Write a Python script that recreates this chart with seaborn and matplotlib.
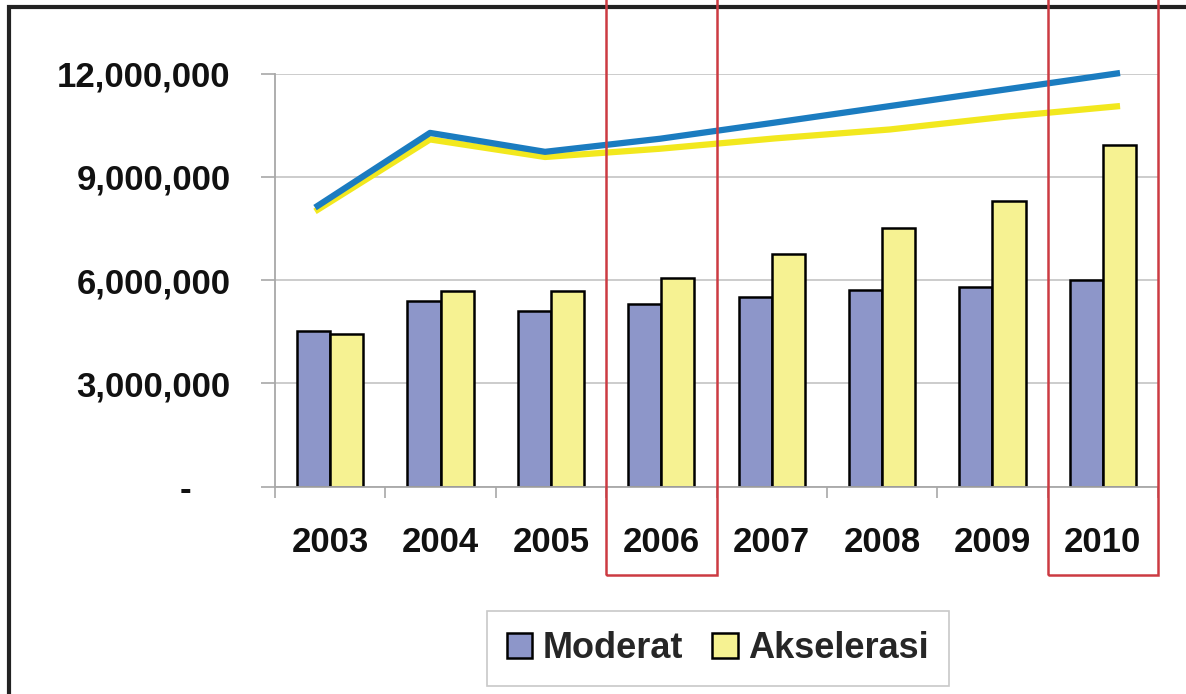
import numpy as np
import pandas as pd
import matplotlib
matplotlib.use("Agg")
import matplotlib.pyplot as plt
import matplotlib.transforms as mtransforms
from matplotlib.patches import Rectangle, Patch
from matplotlib.ticker import FuncFormatter, FixedLocator
import seaborn as sns

# ---------------- data ----------------
years = ['2003', '2004', '2005', '2006', '2007', '2008', '2009', '2010']
series_names = ['Moderat', 'Akselerasi']
moderat_bar = [4.53e6, 5.40e6, 5.11e6, 5.31e6, 5.50e6, 5.71e6, 5.81e6, 6.00e6]
akselerasi_bar = [4.44e6, 5.69e6, 5.69e6, 6.07e6, 6.75e6, 7.53e6, 8.29e6, 9.94e6]
moderat_line = [8.11e6, 10.28e6, 9.73e6, 10.11e6, 10.58e6, 11.06e6, 11.54e6, 12.02e6]
akselerasi_line = [8.00e6, 10.09e6, 9.58e6, 9.82e6, 10.12e6, 10.38e6, 10.75e6, 11.06e6]
highlight_years = ['2006', '2010']
yticks = [0, 3e6, 6e6, 9e6, 12e6]

# ---------------- style ----------------
bar_colors = ['#8D96C9', '#F6F292']
line_colors = ['#1B7CC0', '#F2E81E']
grey = '#A8A8A8'

sns.set_theme(style='white')
plt.rcParams['font.family'] = ['Liberation Sans', 'DejaVu Sans']
plt.rcParams['font.weight'] = 'bold'

df = pd.DataFrame({
    'Tahun': years * 2,
    'Skenario': [series_names[0]] * len(years) + [series_names[1]] * len(years),
    'Nilai': moderat_bar + akselerasi_bar,
})

W, H = 1186, 694
fig = plt.figure(figsize=(W / 100, H / 100), dpi=100)
fig.patch.set_facecolor('white')
ax = fig.add_axes([275 / W, 1 - 486.7 / H, (1158 - 275) / W, (486.7 - 73.7) / H])

sns.barplot(data=df, x='Tahun', y='Nilai', hue='Skenario', hue_order=series_names,
            order=years, palette=bar_colors, width=0.6, saturation=1,
            edgecolor='black', linewidth=1.8, ax=ax, legend=False, zorder=2)

ax.set_xlim(-0.5, len(years) - 0.5)
ax.set_ylim(0, 12e6)
ax.set_xlabel('')
ax.set_ylabel('')
ax.set_yticks(yticks)
ax.yaxis.set_major_formatter(FuncFormatter(lambda v, p: '-    ' if v == 0 else f'{v:,.0f}'))
ax.yaxis.grid(True, color='#C8C8C8', lw=1.3)
ax.set_axisbelow(True)
for s in ['top', 'right']:
    ax.spines[s].set_visible(False)
for s in ['left', 'bottom']:
    ax.spines[s].set_color(grey)
    ax.spines[s].set_linewidth(1.3)

ax.tick_params(axis='y', which='major', length=10, width=1.2, color=grey, direction='out',
               pad=22, labelsize=25, left=True)
ax.tick_params(axis='x', which='major', length=0, pad=28, labelsize=25)
ax.xaxis.set_minor_locator(FixedLocator(np.arange(len(years) + 1) - 0.5))
ax.tick_params(axis='x', which='minor', length=8, width=1.2, color=grey, direction='out', bottom=True)
for lab in ax.get_xticklabels() + ax.get_yticklabels():
    lab.set_fontweight('bold')
    lab.set_color('#111111')

# ---------------- lines (separate overlay) ----------------
ax2 = ax.twiny()
idx = np.arange(len(years))
sns.lineplot(x=idx, y=akselerasi_line, ax=ax2, color=line_colors[1], lw=4.5, solid_capstyle='butt')
sns.lineplot(x=idx, y=moderat_line, ax=ax2, color=line_colors[0], lw=4.5, solid_capstyle='butt')
for ln in ax2.lines:
    ln.set_clip_on(False)
ax2.set_xlim(-0.348, 7.330)
ax2.set_ylim(0, 12e6)
ax2.axis('off')

# ---------------- legend ----------------
handles = [Patch(facecolor=c, edgecolor='black', linewidth=1.8) for c in bar_colors]
leg = fig.legend(handles, series_names, loc='center', bbox_to_anchor=(718 / W, 1 - 648.5 / H),
                 ncol=2, frameon=True, fancybox=False, edgecolor='#BBBBBB',
                 handlelength=0.7, handleheight=0.7, handletextpad=0.3, columnspacing=0.8,
                 borderpad=0.55, prop={'weight': 'bold', 'size': 26})
leg.get_frame().set_linewidth(1.2)

# ---------------- highlight boxes ----------------
blend = mtransforms.blended_transform_factory(ax.transData, fig.transFigure)
for yr in highlight_years:
    i = years.index(yr)
    fig.add_artist(Rectangle((i - 0.5, 1 - 575 / H), 1.0, 575 / H + 0.05, transform=blend, fill=False,
                             ec='#CC3B42', lw=1.8, clip_on=False, zorder=5))

# ---------------- outer frame ----------------
fig.add_artist(Rectangle((9 / W, -0.2), 1.2, 1.2 - 7 / H, transform=fig.transFigure, fill=False,
                         ec='#222222', lw=3, clip_on=False, zorder=4))

fig.savefig('out.png', dpi=100)
